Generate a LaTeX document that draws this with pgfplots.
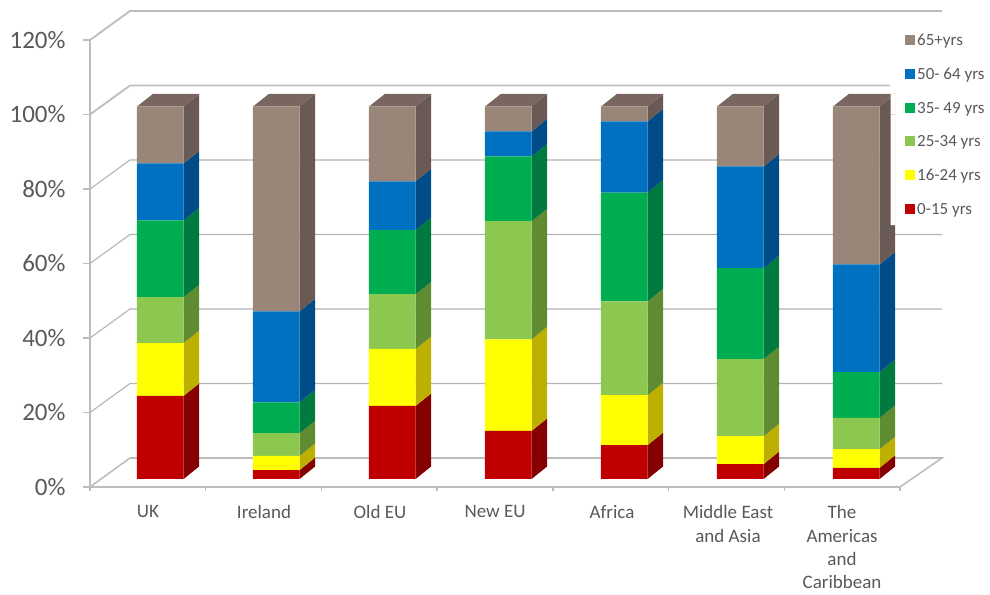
\documentclass[border=0pt]{standalone}
\usepackage{pgfplots}
\usepackage{pgfplotstable}
\usepackage{fontspec}
\setmainfont{Carlito}
\pgfplotsset{compat=1.18}
\definecolor{txt}{HTML}{595959}
\definecolor{axc}{HTML}{BDBDBD}
\definecolor{gridc}{HTML}{B4B4B4}
\definecolor{fa}{HTML}{C00000}\definecolor{sa}{HTML}{850000}
\definecolor{fb}{HTML}{FFFF00}\definecolor{sb}{HTML}{BDB000}
\definecolor{fc}{HTML}{8CC850}\definecolor{sc}{HTML}{5F8C30}
\definecolor{fd}{HTML}{00AD50}\definecolor{sd}{HTML}{007A3E}
\definecolor{fe}{HTML}{0070C0}\definecolor{se}{HTML}{004C88}
\definecolor{ff}{HTML}{9A8678}\definecolor{sf}{HTML}{6A5A55}
\definecolor{tf}{HTML}{7A6660}
% share of each age group, per cent; x = centre of the column's front face
\pgfplotstableread{
x     base a    b    c    d    e    f
160.3 2.15 22.3 14.2 12.3 20.6 15.3 15.3
276.3 2.15 2.4  3.8  6.1  8.3  24.4 55.0
392.3 2.15 19.6 15.3 14.7 17.2 13.1 20.1
508.3 2.15 12.9 24.6 31.7 17.4 6.7  6.7
624.3 2.15 9.1  13.4 25.2 29.2 19.1 4.0
740.3 2.15 4.0  7.5  20.7 24.4 27.3 16.1
856.3 2.15 3.0  5.0  8.4  12.3 28.9 42.4
}\data
\pgfplotsset{base/.style={
  scale only axis, width=810pt, height=447pt,
  at={(90pt,107pt)}, anchor=origin,
  xmin=90, xmax=900, ymin=0, ymax=120, clip=false}}
\newcommand\seg[2]{%
  \pgfplotstablegetelem{\i}{#2}\of\data
  \pgfmathsetmacro\hi{\lo+\pgfplotsretval}%
  \pgfmathsetmacro\lob{\lo+3.36}%
  \pgfmathsetmacro\hib{\hi+3.36}%
  \addplot[fill=#1,draw=none,forget plot] coordinates {(\xR,\lo) (\xB,\lob) (\xB,\hib) (\xR,\hi) (\xR,\lo)};
  \let\lo\hi}
\begin{document}
\begin{tikzpicture}
\path[use as bounding box] (0pt,0pt) rectangle (990pt,594pt);
\begin{axis}[base,
  axis x line=bottom, axis y line=left,
  axis line style={-,draw=axc,line width=1.8pt},
  tick style={draw=axc,line width=1.3pt},
  tick align=outside, major tick length=7pt,
  ytick={0,20,...,120},
  yticklabels={0\%,20\%,40\%,60\%,80\%,100\%,120\%},
  yticklabel style={font=\fontsize{25}{28}\selectfont,text=txt,anchor=east,xshift=-14pt},
  xtick={148,264,380,495,612,728,842},
  xticklabels={UK,Ireland,Old EU,New EU,Africa,{Middle East\\and Asia},{The\\Americas\\and\\Caribbean}},
  xticklabel style={font=\fontsize{19}{23.4}\selectfont,text=txt,align=center,anchor=north,yshift=-8pt},
  extra x ticks={90,205.7,321.4,437.1,552.9,668.6,784.3,900},
  extra x tick labels={},
  extra x tick style={major tick length=4pt},
  every x tick/.style={draw=none},
  extra x tick style={every x tick/.style={draw=axc,line width=1.3pt}},
]
% walls
\addplot[draw=axc,line width=1.8pt,forget plot] coordinates {(90,120) (130,127.79) (942,127.79)};
\addplot[draw=axc,line width=1.8pt,forget plot] coordinates {(90,100) (130,107.79) (890,107.79)};
\addplot[draw=gridc,line width=1.1pt,forget plot] coordinates {(90,80) (130,87.79) (890,87.79)};
\addplot[draw=gridc,line width=1.1pt,forget plot] coordinates {(90,60) (130,67.79) (942,67.79)};
\addplot[draw=gridc,line width=1.1pt,forget plot] coordinates {(90,40) (130,47.79) (942,47.79)};
\addplot[draw=gridc,line width=1.1pt,forget plot] coordinates {(90,20) (130,27.79) (942,27.79)};
\addplot[draw=axc,line width=1.6pt,forget plot] coordinates {(90,0) (130,7.79) (942,7.79) (900,0)};
% side and top faces
\pgfplotsforeachungrouped \i in {0,...,6}{%
  \pgfplotstablegetelem{\i}{x}\of\data
  \pgfmathsetmacro\xL{\pgfplotsretval-23.3}%
  \pgfmathsetmacro\xR{\pgfplotsretval+23.3}%
  \pgfmathsetmacro\xB{\pgfplotsretval+38.8}%
  \pgfmathsetmacro\xT{\pgfplotsretval+38.8}%
  \pgfmathsetmacro\xLB{\pgfplotsretval-7.5}%
  \def\lo{2.15}%
  \seg{sa}{a}\seg{sb}{b}\seg{sc}{c}\seg{sd}{d}\seg{se}{e}\seg{sf}{f}%
  \pgfmathsetmacro\hib{\hi+3.36}%
  \addplot[fill=tf,draw=none,forget plot] coordinates {(\xL,\hi) (\xLB,\hib) (\xT,\hib) (\xR,\hi) (\xL,\hi)};
}
% the last column's upper side face is narrower above its step
\addplot[fill=white,draw=none,forget plot] coordinates {(890.5,100) (895.5,100) (895.5,70.3) (890.5,70.3) (890.5,100)};
\addplot[fill=white,draw=none,forget plot] coordinates {(890.5,105.6) (895.5,105.6) (895.5,100) (890.5,100) (890.5,105.6)};
\end{axis}
\begin{axis}[base, hide axis,
  ybar stacked, bar width=46.7pt,
  reverse legend,
  legend image code/.code={\fill[#1] (0pt,-4.5pt) rectangle (10pt,5.5pt);},
  legend style={at={(axis cs:905,122.3)},anchor=north west,draw=none,fill=none,
    font=\fontsize{17}{18}\selectfont,text=txt,row sep=17.2pt,inner sep=0pt,
    /tikz/every even column/.style={column sep=10.5pt}},
  legend cell align=left,
]
\addplot[draw=none,fill=none,forget plot] table[x=x,y=base] {\data};
\addplot[fill=fa,draw=none] table[x=x,y=a] {\data};
\addplot[fill=fb,draw=none] table[x=x,y=b] {\data};
\addplot[fill=fc,draw=none] table[x=x,y=c] {\data};
\addplot[fill=fd,draw=none] table[x=x,y=d] {\data};
\addplot[fill=fe,draw=none] table[x=x,y=e] {\data};
\addplot[fill=ff,draw=none] table[x=x,y=f] {\data};
\legend{0-15 yrs,16-24 yrs,25-34 yrs,35- 49 yrs,50- 64 yrs,65+yrs}
\end{axis}
\end{tikzpicture}
\end{document}
